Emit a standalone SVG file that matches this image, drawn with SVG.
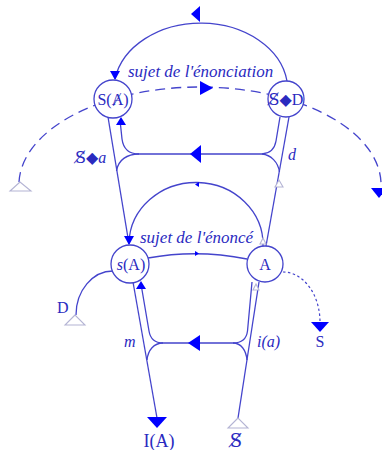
<svg xmlns="http://www.w3.org/2000/svg" width="382" height="450" viewBox="0 0 382 450">
<style>
.ln{fill:none;stroke:#4444cc;stroke-width:1.3}
.dash{fill:none;stroke:#4444cc;stroke-width:1.3;stroke-dasharray:10 6}
.dot{fill:none;stroke:#4444cc;stroke-width:1.2;stroke-dasharray:2.5 2.5}
.ah{fill:#0000ff;stroke:none}
.ht{fill:#ffffff;stroke:#b4b4d4;stroke-width:1.1}
.nd{fill:#ffffff;stroke:#4444cc;stroke-width:1.3}
.t{font-family:"Liberation Serif","DejaVu Serif",serif;fill:#2a2abf;font-size:16px}
.i{font-style:italic}
.bs{font-family:"DejaVu Serif",serif}
</style>
<rect width="382" height="450" fill="#ffffff"/>
<g id="connectors">
  <!-- top arc S◆D -> S(A) -->
  <path class="ln" d="M287,81 A87,67 0 0 0 115,79"/>
  <polygon class="ah" points="191,14 200,6 200,22"/>
  <polygon class="ah" points="115,80 110,71 120,71"/>
  <!-- dashed big arc -->
  <path class="dash" d="M19,182 A181,98 0 0 1 200,87 A181,98 0 0 1 381,188"/>
  <polygon class="ah" points="213,88 200,81 200,95"/>
  <polygon class="ah" points="379,198 371,188 387,188"/>
  <polygon class="ht" points="20,182 10,191 31,191"/>
  <!-- left long line S(A) -> s(A) -->
  <path class="ln" d="M108,117 L129,244"/>
  <!-- upper horizontal -->
  <path class="ln" d="M120,120 L122,139 Q124,154 139,154 L262,154"/>
  <path class="ln" d="M139,154 C127,154 118,160 116.5,171"/>
  <polygon class="ah" points="121,117 116,125 126,125"/>
  <polygon class="ah" points="190,154 201,145 201,163"/>
  <path class="ln" d="M280,117 L276,141 Q274,153 262,154"/>
  <path class="ln" d="M262,154 C271,155 278,162 279.5,172"/>
  <!-- right outer line A -> S◆D -->
  <path class="ln" d="M289,117 L266,246"/>
  <polygon class="ht" points="279,180 275,187 283,187"/>
  <!-- middle arc A -> s(A) -->
  <path class="ln" d="M263,246 A67,62 0 0 0 129,243"/>
  <polygon class="ah" points="195,184.5 199,182 199,187"/>
  <polygon class="ah" points="129,245 124,236 134,236"/>
  <!-- s(A) -> A -->
  <path class="ln" d="M148,258 Q197,249 247,259"/>
  <polygon class="ah" points="199,253.5 195,251 195,256"/>
  <!-- lower left: s(A) -> I(A) -->
  <path class="ln" d="M133,282 L157,418"/>
  <polygon class="ah" points="157,428 147,417 167,417"/>
  <path class="ln" d="M141,284 L149,331 Q151,343 163,343 L233,343"/>
  <path class="ln" d="M163,343 C154,343 148,350 147,360"/>
  <polygon class="ah" points="141,281 136,289 146,289"/>
  <polygon class="ah" points="188,343 200,335 200,351"/>
  <!-- lower right -->
  <path class="ln" d="M238,418 L259,282"/>
  <path class="ln" d="M252,282 L247.5,331 Q246,343 233,343"/>
  <path class="ln" d="M233,343 C241,343 246,350 247,360"/>
  <polygon class="ht" points="238,418 228,428 248,428"/>
  <polygon class="ht" points="263,238 260,244 266,244"/>
  <polygon class="ht" points="256,284 253,290 259,290"/>
  <!-- D curve -->
  <path class="ln" d="M113,271 A37,44 0 0 0 76,315"/>
  <polygon class="ht" points="75,315 65,325 85,325"/>
  <!-- dotted A -> S -->
  <path class="dot" d="M283,272 A37,50 0 0 1 320,322"/>
  <polygon class="ah" points="320,332 311,322 329,322"/>
</g>
<g id="node-S-barA">
  <circle class="nd" cx="113" cy="99" r="19"/>
  <text class="t" x="113" y="105" text-anchor="middle">S(Ⱥ)</text>
</g>
<g id="node-S-D">
  <circle class="nd" cx="286" cy="99" r="18"/>
  <text class="t" x="286" y="105" text-anchor="middle"><tspan class="bs">S̸</tspan>◆D</text>
</g>
<g id="node-sA">
  <circle class="nd" cx="130" cy="264" r="19"/>
  <text class="t" x="131" y="270" text-anchor="middle"><tspan class="i">s</tspan>(A)</text>
</g>
<g id="node-A">
  <circle class="nd" cx="265" cy="264" r="18"/>
  <text class="t" x="265" y="270" text-anchor="middle">A</text>
</g>
<g id="labels">
  <text class="t i" x="128" y="77" style="font-size:17px">sujet de l'énonciation</text>
  <text class="t i" x="140" y="243" style="font-size:17px">sujet de l'énoncé</text>
  <text class="t" x="75" y="163"><tspan class="bs">S̸</tspan>◆<tspan class="i">a</tspan></text>
  <text class="t i" x="288" y="160">d</text>
  <text class="t" x="57" y="313">D</text>
  <text class="t i" x="124" y="347">m</text>
  <text class="t i" x="257" y="347">i(a)</text>
  <text class="t" x="320" y="347" text-anchor="middle">S</text>
  <text class="t" x="159" y="447" text-anchor="middle" style="font-size:18px">I(A)</text>
  <text class="t bs" x="236" y="447" text-anchor="middle" style="font-size:18px">S̸</text>
</g>
</svg>
